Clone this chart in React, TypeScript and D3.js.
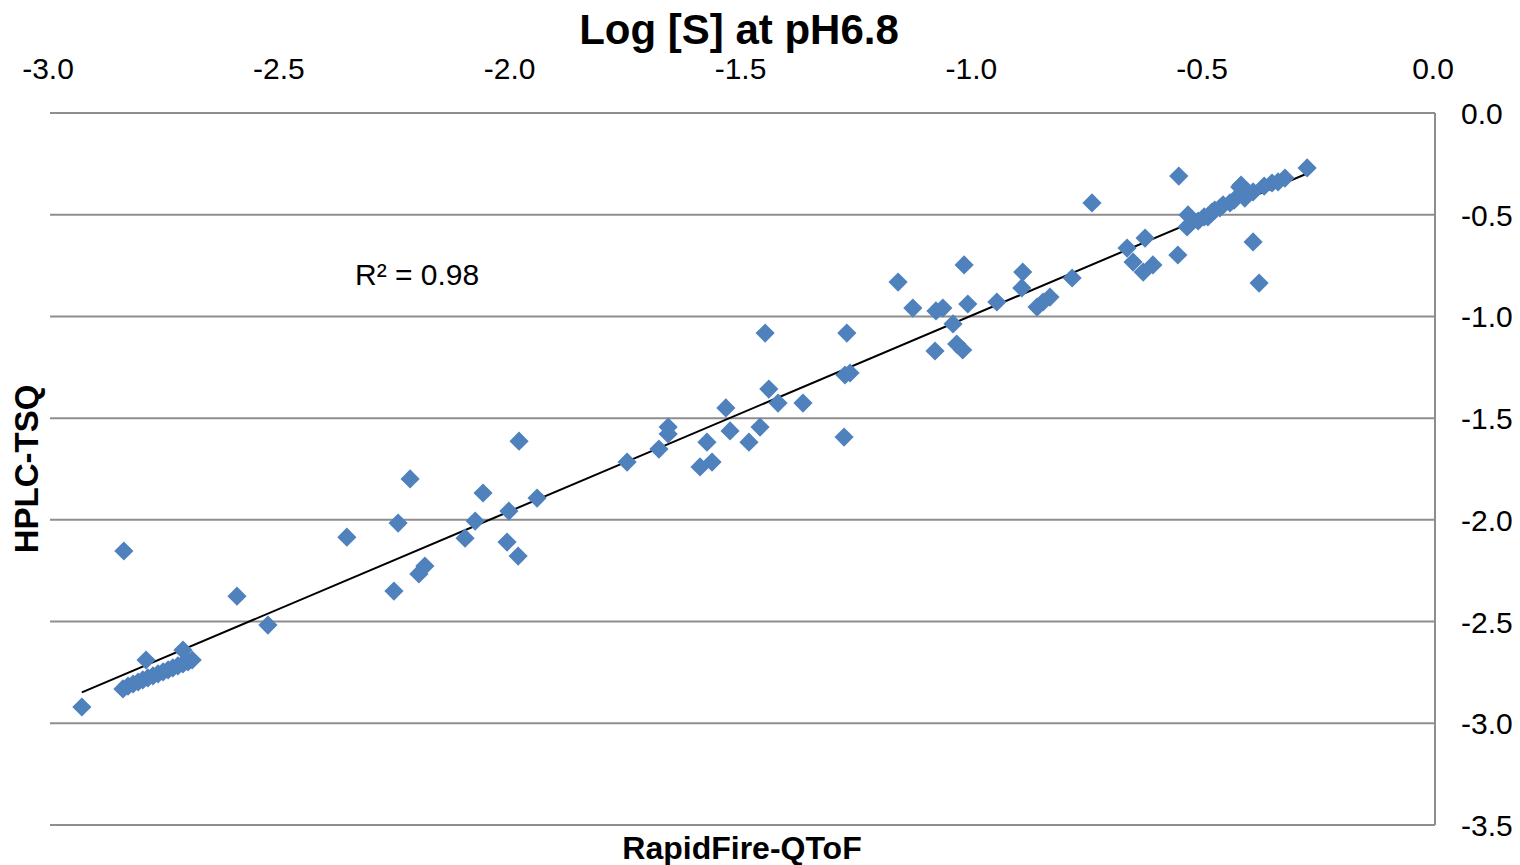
import React from "react";
import * as d3 from "d3";

const title = "Log [S] at pH6.8";
const xLabel = "RapidFire-QToF";
const yLabel = "HPLC-TSQ";
const r2Label = "R² = 0.98";

const xTicks = [-3.0, -2.5, -2.0, -1.5, -1.0, -0.5, 0.0];
const yTicks = [0.0, -0.5, -1.0, -1.5, -2.0, -2.5, -3.0, -3.5];

// RapidFire-QToF values
const xVals = [
  -2.931, -2.840, -2.595, -2.528,
  -2.842, -2.831, -2.820, -2.809, -2.799, -2.788, -2.777, -2.766, -2.755, -2.744,
  -2.734, -2.723, -2.712, -2.701, -2.692, -2.792, -2.712,
  -2.357, -2.246, -2.255, -2.220, -2.201, -2.188, -2.101, -2.079, -2.062, -2.006,
  -2.010, -1.986, -1.984, -1.945,
  -1.750, -1.681, -1.661, -1.661, -1.592, -1.566, -1.577, -1.536, -1.527, -1.486,
  -1.462, -1.451, -1.443, -1.423, -1.369, -1.274, -1.278, -1.267, -1.280,
  -1.163, -1.020, -1.131, -1.081, -1.066, -1.012, -1.044, -1.083, -1.036, -1.023,
  -0.949, -0.893, -0.895, -0.862, -0.849, -0.834, -0.786,
  -0.743, -0.555, -0.667, -0.654, -0.628, -0.632, -0.611, -0.557, -0.537, -0.535,
  -0.492, -0.477, -0.459, -0.444, -0.423, -0.412, -0.394, -0.394, -0.381, -0.353,
  -0.340, -0.325, -0.277, -0.513, -0.500, -0.483, -0.466, -0.435, -0.370, -0.420,
];

// HPLC-TSQ values
const yVals = [
  -2.920, -2.153, -2.375, -2.517,
  -2.831, -2.817, -2.807, -2.797, -2.787, -2.777, -2.767, -2.757, -2.747, -2.737,
  -2.728, -2.718, -2.708, -2.698, -2.689, -2.689, -2.640,
  -2.085, -2.016, -2.350, -1.799, -2.266, -2.227, -2.090, -2.006, -1.868, -1.957,
  -2.109, -2.178, -1.613, -1.893,
  -1.716, -1.652, -1.544, -1.578, -1.740, -1.716, -1.618, -1.450, -1.563, -1.618,
  -1.544, -1.082, -1.357, -1.426, -1.426, -1.082, -1.288, -1.278, -1.593,
  -0.831, -0.747, -0.959, -0.973, -0.959, -0.939, -1.037, -1.170, -1.136, -1.165,
  -0.929, -0.782, -0.860, -0.954, -0.929, -0.905, -0.811,
  -0.442, -0.310, -0.664, -0.733, -0.615, -0.782, -0.747, -0.698, -0.560, -0.501,
  -0.511, -0.477, -0.452, -0.442, -0.364, -0.418, -0.388, -0.634, -0.836, -0.344,
  -0.339, -0.320, -0.270, -0.531, -0.511, -0.487, -0.467, -0.428, -0.359, -0.354,
];

const FONT = "'Liberation Sans', Arial, sans-serif";

export default function App() {
  const W = 1520;
  const H = 865;
  const x = d3.scaleLinear().domain([-3, 0]).range([50, 1435]);
  const y = d3.scaleLinear().domain([0, -3.5]).range([113, 825]);

  const pts = xVals.map((v, i) => [v, yVals[i]] as [number, number]);

  // least-squares trend line
  const mx = d3.mean(xVals)!;
  const my = d3.mean(yVals)!;
  let sxy = 0, sxx = 0;
  pts.forEach(([a, b]) => { sxy += (a - mx) * (b - my); sxx += (a - mx) * (a - mx); });
  const slope = sxy / sxx;
  const icpt = my - slope * mx;
  const [xmin, xmax] = d3.extent(xVals) as [number, number];

  const diamond = d3.symbol().type(d3.symbolDiamond2).size(235)();

  return (
    <svg width={W} height={H} style={{ position: "absolute", left: 0, top: 0, background: "#fff" }} fontFamily={FONT}>
      {yTicks.map((t) => (
        <line key={"g" + t} x1={50} x2={1435} y1={y(t)} y2={y(t)} stroke="#8e8e8e" strokeWidth={2} />
      ))}
      <line x1={1435} x2={1435} y1={y(0)} y2={y(-3.5)} stroke="#8e8e8e" strokeWidth={2} />
      {xTicks.map((t) => (
        <text key={"x" + t} x={x(t) - 2} y={79} fontSize={30} textAnchor="middle" fill="#000">
          {t.toFixed(1)}
        </text>
      ))}
      {yTicks.map((t) => (
        <text key={"y" + t} x={1461} y={y(t) + 11} fontSize={30} textAnchor="start" fill="#000">
          {t.toFixed(1)}
        </text>
      ))}
      <line x1={x(xmin)} y1={y(slope * xmin + icpt)} x2={x(xmax)} y2={y(slope * xmax + icpt)} stroke="#000" strokeWidth={2} />
      {pts.map(([a, b], i) => (
        <path key={i} d={diamond!} transform={`translate(${x(a)},${y(b)})`} fill="#4F81BD" />
      ))}
      <text x={739} y={44} fontSize={42} fontWeight="bold" textAnchor="middle" fill="#000">{title}</text>
      <text x={742} y={859} fontSize={32} fontWeight="bold" textAnchor="middle" fill="#000">{xLabel}</text>
      <text transform="translate(38,469) rotate(-90)" fontSize={33} fontWeight="bold" textAnchor="middle" fill="#000">{yLabel}</text>
      <text x={355} y={285} fontSize={30} fill="#000">{r2Label}</text>
    </svg>
  );
}
